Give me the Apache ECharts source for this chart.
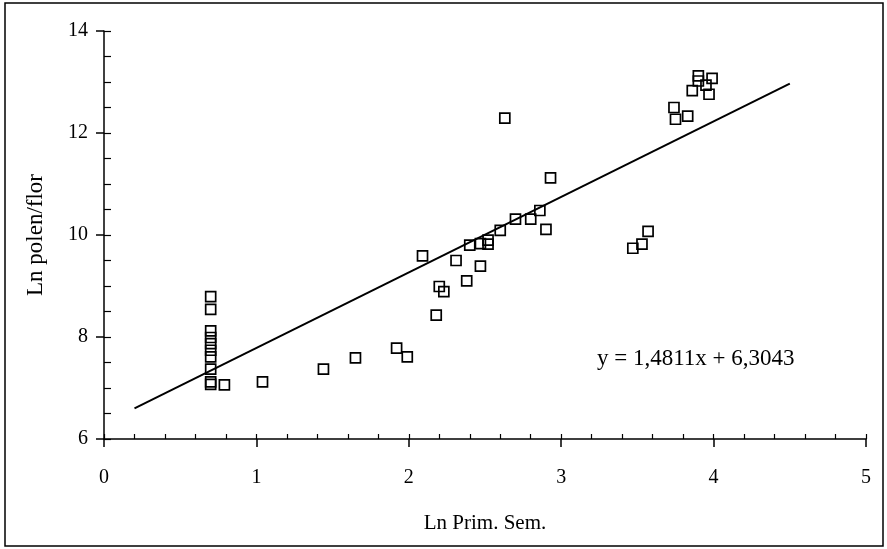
<!DOCTYPE html>
<html>
<head>
<meta charset="utf-8">
<script src="https://cdn.jsdelivr.net/npm/echarts@6/dist/echarts.min.js"></script>
<style>html,body{margin:0;padding:0;background:#fff}#c{width:887px;height:549px}</style>
</head>
<body>
<div id="c"></div>
<script>
// Data
const lnPrimSem = [0.70,0.70,0.70,0.70,0.70,0.70,0.70,0.70,0.70,0.70,0.79,1.04,1.44,1.65,1.92,1.99,2.09,2.18,2.20,2.23,2.31,2.38,2.40,2.47,2.47,2.52,2.52,2.60,2.63,2.70,2.80,2.86,2.90,2.93,3.47,3.53,3.57,3.74,3.75,3.83,3.86,3.90,3.90,3.95,3.97,3.99];
const lnPolen   = [8.79,8.54,8.12,7.99,7.87,7.74,7.61,7.37,7.12,7.07,7.06,7.12,7.37,7.59,7.78,7.61,9.59,8.43,8.99,8.89,9.50,9.10,9.80,9.83,9.39,9.90,9.82,10.09,12.29,10.31,10.31,10.48,10.11,11.12,9.74,9.82,10.07,12.50,12.27,12.33,12.83,13.12,13.02,12.94,12.76,13.07];
const trendX = [0.2, 4.5];
const trendY = [6.60, 12.97];
const equationText = 'y = 1,4811x + 6,3043';
const xName = 'Ln Prim. Sem.';
const yName = 'Ln polen/flor';

const pts = lnPrimSem.map((x, i) => [x, lnPolen[i]]);
const trend = trendX.map((x, i) => [x, trendY[i]]);
const font = 'Liberation Serif';

const chart = echarts.init(document.getElementById('c'));
chart.setOption({
  animation: false,
  backgroundColor: '#fff',
  grid: { left: 104, top: 31, right: 21, bottom: 110 },
  xAxis: [{
    type: 'value', min: 0, max: 5, interval: 1,
    name: xName, nameLocation: 'middle', nameGap: 74,
    nameTextStyle: { fontFamily: font, fontSize: 21, color: '#000' },
    axisLine: { show: true, lineStyle: { color: '#000', width: 1.5 } },
    axisTick: { show: true, inside: false, length: 8, lineStyle: { color: '#000', width: 1.5 } },
    axisLabel: { fontFamily: font, fontSize: 20, color: '#000', margin: 29 },
    splitLine: { show: false }
  }, {
    type: 'value', min: 0, max: 5, interval: 1, position: 'bottom',
    axisLine: { show: false },
    axisTick: { show: true, inside: true, length: 5, lineStyle: { color: '#000', width: 1.2 } },
    minorTick: { show: true, splitNumber: 5, length: 5, lineStyle: { color: '#000', width: 1.2 } },
    axisLabel: { show: false },
    splitLine: { show: false }
  }],
  yAxis: [{
    type: 'value', min: 6, max: 14, interval: 2,
    name: yName, nameLocation: 'middle', nameGap: 57,
    nameTextStyle: { fontFamily: font, fontSize: 23, color: '#000' },
    axisLine: { show: true, lineStyle: { color: '#000', width: 1.5 } },
    axisTick: { show: true, inside: false, length: 8, lineStyle: { color: '#000', width: 1.5 } },
    axisLabel: { fontFamily: font, fontSize: 20, color: '#000', margin: 16 },
    splitLine: { show: false }
  }, {
    type: 'value', min: 6, max: 14, interval: 2, position: 'left',
    axisLine: { show: false },
    axisTick: { show: true, inside: true, length: 7, lineStyle: { color: '#000', width: 1.2 } },
    minorTick: { show: true, splitNumber: 4, length: 7, lineStyle: { color: '#000', width: 1.2 } },
    axisLabel: { show: false },
    splitLine: { show: false }
  }],
  series: [{
    type: 'line',
    data: trend,
    symbol: 'none',
    lineStyle: { color: '#000', width: 2 },
    z: 2
  }, {
    type: 'scatter',
    data: pts,
    symbol: 'rect',
    symbolSize: 10,
    itemStyle: { color: 'rgba(255,255,255,0)', borderColor: '#000', borderWidth: 1.7, opacity: 1 },
    z: 3
  }],
  graphic: [{
    type: 'rect',
    shape: { x: 5, y: 3, width: 878, height: 543 },
    style: { fill: 'none', stroke: '#000', lineWidth: 1.5 },
    silent: true
  }, {
    type: 'text',
    left: 597, top: 347,
    style: { text: equationText, font: '23px "Liberation Serif"', fill: '#000' }
  }]
});
</script>
</body>
</html>
